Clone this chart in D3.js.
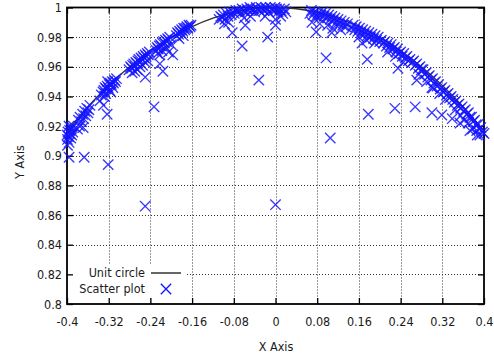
<!DOCTYPE html>
<html>
<head>
<meta charset="utf-8">
<script src="https://cdn.jsdelivr.net/npm/d3@7"></script>
<style>
  body { margin: 0; background: #fff; }
  svg { display: block; }
  text { font-family: "DejaVu Sans Condensed", "DejaVu Sans", sans-serif; fill: #1a1a1a; }
</style>
</head>
<body>
<script>
// tick values on both axes
var xTicks = [-0.4, -0.32, -0.24, -0.16, -0.08, 0, 0.08, 0.16, 0.24, 0.32, 0.4];
var yTicks = [0.8, 0.82, 0.84, 0.86, 0.88, 0.9, 0.92, 0.94, 0.96, 0.98, 1];

// "Unit circle" line, read at every 0.04
var circleX = [-0.4, -0.36, -0.32, -0.28, -0.24, -0.2, -0.16, -0.12, -0.08, -0.04, 0,
               0.04, 0.08, 0.12, 0.16, 0.2, 0.24, 0.28, 0.32, 0.36, 0.4];
var circleY = [0.9165, 0.9330, 0.9474, 0.9600, 0.9708, 0.9798, 0.9871, 0.9928, 0.9968, 0.9992, 1.0,
               0.9992, 0.9968, 0.9928, 0.9871, 0.9798, 0.9708, 0.9600, 0.9474, 0.9330, 0.9165];

// "Scatter plot" points hugging the circle, left half
var scatterLeft = [
  [-0.400,0.914],[-0.399,0.911],[-0.398,0.916],[-0.397,0.913],[-0.396,0.909],[-0.395,0.917],
  [-0.394,0.915],[-0.393,0.912],[-0.392,0.918],[-0.391,0.914],[-0.390,0.919],[-0.389,0.916],
  [-0.388,0.920],[-0.399,0.907],[-0.396,0.920],
  [-0.378,0.924],[-0.375,0.926],[-0.372,0.923],[-0.370,0.928],[-0.368,0.925],[-0.366,0.930],
  [-0.364,0.927],[-0.362,0.932],[-0.360,0.929],[-0.358,0.931],[-0.376,0.920],[-0.369,0.919],
  [-0.356,0.934],[-0.380,0.918],
  [-0.334,0.941],[-0.331,0.943],[-0.329,0.944],[-0.327,0.946],[-0.325,0.945],[-0.323,0.947],
  [-0.321,0.946],[-0.319,0.948],[-0.317,0.949],[-0.315,0.948],[-0.313,0.950],[-0.311,0.949],
  [-0.309,0.951],[-0.307,0.950],[-0.305,0.952],[-0.318,0.944],[-0.312,0.946],[-0.326,0.942],
  [-0.322,0.950],[-0.328,0.940],[-0.316,0.943],
  [-0.281,0.958],[-0.278,0.960],[-0.276,0.959],[-0.274,0.961],[-0.272,0.962],[-0.270,0.960],
  [-0.268,0.963],[-0.266,0.962],[-0.264,0.964],[-0.262,0.965],[-0.260,0.963],[-0.258,0.966],
  [-0.256,0.965],[-0.254,0.967],[-0.252,0.966],[-0.250,0.968],[-0.248,0.967],[-0.246,0.969],
  [-0.244,0.968],[-0.242,0.970],[-0.275,0.956],[-0.265,0.958],[-0.255,0.961],[-0.245,0.964],
  [-0.270,0.957],[-0.260,0.960],[-0.250,0.963],
  [-0.229,0.971],[-0.227,0.973],[-0.225,0.972],[-0.223,0.974],[-0.221,0.975],[-0.219,0.974],
  [-0.217,0.976],[-0.215,0.977],[-0.213,0.976],[-0.211,0.978],[-0.209,0.977],[-0.207,0.979],
  [-0.205,0.978],[-0.203,0.980],[-0.226,0.969],[-0.218,0.971],[-0.210,0.973],[-0.200,0.975],
  [-0.190,0.981],[-0.188,0.983],[-0.186,0.982],[-0.184,0.984],[-0.182,0.983],[-0.180,0.985],
  [-0.178,0.984],[-0.176,0.986],[-0.174,0.985],[-0.172,0.986],[-0.170,0.987],[-0.168,0.986],
  [-0.166,0.988],[-0.164,0.987],[-0.162,0.988],[-0.185,0.979],[-0.177,0.981]
];

// top of the arc
var scatterTop = [
  [-0.108,0.992],[-0.105,0.994],[-0.102,0.993],[-0.100,0.995],[-0.097,0.992],[-0.094,0.996],
  [-0.091,0.994],[-0.088,0.997],[-0.085,0.995],[-0.082,0.997],[-0.079,0.996],[-0.076,0.998],
  [-0.073,0.997],[-0.070,0.998],[-0.067,0.996],[-0.064,0.999],[-0.061,0.998],[-0.058,0.997],
  [-0.055,0.999],[-0.052,0.998],[-0.049,1.000],[-0.046,0.998],[-0.043,0.999],[-0.040,0.997],
  [-0.037,1.000],[-0.034,0.999],[-0.031,0.998],[-0.028,1.000],[-0.025,0.999],[-0.022,0.998],
  [-0.019,1.000],[-0.016,0.999],[-0.013,0.997],[-0.010,1.000],[-0.007,0.999],[-0.004,0.998],
  [-0.001,1.000],[0.002,0.999],[0.005,0.997],[0.008,0.999],[0.011,0.998],[0.014,0.996],
  [0.017,0.999],[0.020,0.997],[-0.098,0.989],[-0.090,0.990],[-0.060,0.993],[-0.048,0.994],
  [-0.020,0.994],[0.000,0.992],[0.010,0.994]
];

// right half
var scatterRight = [
  [0.066,0.996],[0.069,0.998],[0.072,0.995],[0.075,0.997],[0.078,0.994],[0.081,0.996],
  [0.084,0.993],[0.087,0.995],[0.090,0.997],[0.093,0.994],[0.096,0.996],[0.099,0.993],
  [0.102,0.995],[0.105,0.992],[0.108,0.994],[0.111,0.991],[0.114,0.993],[0.117,0.990],
  [0.120,0.992],[0.123,0.989],[0.126,0.991],[0.129,0.988],[0.132,0.990],[0.135,0.987],
  [0.138,0.989],[0.070,0.990],[0.085,0.989],[0.100,0.988],[0.110,0.986],[0.125,0.985],
  [0.146,0.986],[0.149,0.988],[0.152,0.985],[0.155,0.987],[0.158,0.984],[0.161,0.986],
  [0.164,0.983],[0.167,0.985],[0.170,0.982],[0.173,0.984],[0.176,0.981],[0.179,0.983],
  [0.182,0.980],[0.185,0.982],[0.188,0.979],[0.191,0.981],[0.194,0.978],[0.197,0.980],
  [0.200,0.977],[0.203,0.978],[0.160,0.980],[0.175,0.978],[0.190,0.976],
  [0.207,0.976],[0.210,0.977],[0.213,0.974],[0.216,0.976],[0.219,0.973],[0.222,0.975],
  [0.225,0.972],[0.228,0.973],[0.231,0.970],[0.234,0.972],[0.237,0.969],[0.240,0.970],
  [0.243,0.967],[0.246,0.969],[0.249,0.966],[0.252,0.967],[0.255,0.964],[0.258,0.965],
  [0.215,0.970],[0.230,0.967],[0.245,0.963],
  [0.262,0.963],[0.265,0.964],[0.268,0.961],[0.271,0.962],[0.274,0.959],[0.277,0.960],
  [0.280,0.958],[0.283,0.958],[0.286,0.955],[0.289,0.956],[0.292,0.953],[0.295,0.954],
  [0.298,0.951],[0.301,0.952],[0.304,0.949],[0.307,0.950],[0.310,0.947],[0.313,0.948],
  [0.316,0.945],[0.319,0.946],[0.322,0.943],[0.325,0.944],[0.328,0.941],[0.331,0.942],
  [0.334,0.939],[0.275,0.955],[0.290,0.950],[0.300,0.946],[0.315,0.942],[0.326,0.938],
  [0.337,0.940],[0.340,0.938],[0.343,0.936],[0.346,0.937],[0.349,0.934],[0.352,0.935],
  [0.355,0.932],[0.358,0.933],[0.361,0.930],[0.364,0.931],[0.367,0.928],[0.370,0.929],
  [0.373,0.926],[0.376,0.926],[0.379,0.923],[0.382,0.924],[0.385,0.921],[0.388,0.921],
  [0.391,0.918],[0.394,0.919],[0.397,0.916],[0.400,0.915],[0.345,0.931],[0.355,0.927],
  [0.362,0.924],[0.370,0.922],[0.378,0.918],[0.386,0.917],[0.392,0.914]
];

// points that fall well inside the circle
var scatterOutliers = [
  [-0.396,0.899],[-0.367,0.899],[-0.321,0.894],[-0.337,0.937],[-0.330,0.934],[-0.323,0.928],
  [-0.250,0.953],[-0.233,0.933],[-0.216,0.957],[-0.222,0.962],[-0.250,0.866],[-0.222,0.968],
  [-0.197,0.968],[-0.205,0.970],[-0.083,0.983],[-0.064,0.974],[-0.058,0.988],[-0.015,0.980],
  [-0.032,0.951],[0.000,0.867],[0.000,0.988],[0.078,0.9835],[0.108,0.983],[0.097,0.966],
  [0.105,0.912],[0.166,0.976],[0.176,0.965],[0.178,0.928],[0.235,0.959],[0.271,0.951],
  [0.302,0.9457],[0.229,0.932],[0.268,0.933],[0.300,0.929],[0.319,0.9275],[0.339,0.925],
  [0.354,0.922],[0.373,0.917],[0.387,0.914]
];

var W = 494, H = 358;
var padL = 67, padR = 484, padT = 7.5, padB = 304;
var blue = "#1414ff";

var svg = d3.select("body").append("svg")
    .attr("width", W)
    .attr("height", H);

var x = d3.scaleLinear().domain([-0.4, 0.4]).range([padL, padR]);
var y = d3.scaleLinear().domain([0.8, 1]).range([padB, padT]);
var fmt = function(d) { return String(+d.toFixed(2)); };

// grid
var grid = svg.append("g")
    .attr("stroke", "#333")
    .attr("stroke-width", 1)
    .attr("stroke-dasharray", "1,2");
grid.selectAll("line.gx")
    .data(xTicks.slice(1, -1))
  .enter().append("line")
    .attr("x1", function(d) { return Math.round(x(d)) + 0.5; })
    .attr("x2", function(d) { return Math.round(x(d)) + 0.5; })
    .attr("y1", padT)
    .attr("y2", padB);
grid.selectAll("line.gy")
    .data(yTicks.slice(1, -1))
  .enter().append("line")
    .attr("y1", function(d) { return Math.round(y(d)) + 0.5; })
    .attr("y2", function(d) { return Math.round(y(d)) + 0.5; })
    .attr("x1", padL)
    .attr("x2", padR);

// key box hides the grid under it
svg.append("rect")
    .attr("x", padL + 1)
    .attr("y", 264)
    .attr("width", 118)
    .attr("height", 34)
    .attr("fill", "#fff");

// axes with inward ticks
svg.append("g")
    .attr("transform", "translate(0," + padB + ")")
    .call(d3.axisBottom(x).tickValues(xTicks).tickFormat(fmt)
      .tickSizeInner(-6).tickSizeOuter(0).tickPadding(13));
svg.append("g")
    .attr("transform", "translate(" + padL + ",0)")
    .call(d3.axisLeft(y).tickValues(yTicks).tickFormat(fmt)
      .tickSizeInner(-6).tickSizeOuter(0).tickPadding(5));
svg.append("g")
    .attr("transform", "translate(0," + padT + ")")
    .call(d3.axisTop(x).tickValues(xTicks).tickFormat("")
      .tickSizeInner(-6).tickSizeOuter(0));
svg.append("g")
    .attr("transform", "translate(" + padR + ",0)")
    .call(d3.axisRight(y).tickValues(yTicks).tickFormat("")
      .tickSizeInner(-6).tickSizeOuter(0));

svg.selectAll(".domain").remove();
svg.selectAll(".tick line").attr("stroke", "#000").attr("stroke-width", 1.3);
svg.selectAll(".tick text")
    .attr("fill", "#1a1a1a")
    .style("font-family", "'DejaVu Sans Condensed', 'DejaVu Sans', sans-serif")
    .style("font-size", "12.5px");

// frame
svg.append("rect")
    .attr("x", padL)
    .attr("y", padT)
    .attr("width", padR - padL)
    .attr("height", padB - padT)
    .attr("fill", "none")
    .attr("stroke", "#000")
    .attr("stroke-width", 1.8);

// unit circle
var line = d3.line()
    .x(function(d, i) { return x(circleX[i]); })
    .y(function(d) { return y(d); })
    .curve(d3.curveNatural);
svg.append("path")
    .datum(circleY)
    .attr("d", line)
    .attr("fill", "none")
    .attr("stroke", "#333")
    .attr("stroke-width", 1.4);

// scatter marks
function cross(sel, s) {
  return sel.attr("d", "M" + (-s) + "," + (-s) + "L" + s + "," + s +
                       "M" + (-s) + "," + s + "L" + s + "," + (-s));
}
var pts = scatterLeft.concat(scatterTop, scatterRight, scatterOutliers);
cross(svg.append("g").selectAll("path")
    .data(pts)
  .enter().append("path")
    .attr("transform", function(d) { return "translate(" + x(d[0]) + "," + y(d[1]) + ")"; })
    .attr("fill", "none")
    .attr("stroke", blue)
    .attr("stroke-opacity", 0.85)
    .attr("stroke-width", 1.35), 5.2);

// key
var key = svg.append("g").style("font-size", "12.5px");
key.append("text")
    .attr("x", 145).attr("y", 273).attr("dy", "0.35em")
    .attr("text-anchor", "end")
    .text("Unit circle");
key.append("line")
    .attr("x1", 151).attr("x2", 181)
    .attr("y1", 273).attr("y2", 273)
    .attr("stroke", "#555")
    .attr("stroke-width", 1.8);
key.append("text")
    .attr("x", 145).attr("y", 289).attr("dy", "0.35em")
    .attr("text-anchor", "end")
    .text("Scatter plot");
cross(key.append("path")
    .attr("transform", "translate(166,289)")
    .attr("fill", "none")
    .attr("stroke", blue)
    .attr("stroke-width", 1.35), 5.2);

// axis titles
svg.append("text")
    .attr("x", 276).attr("y", 347).attr("dy", "0.35em")
    .attr("text-anchor", "middle")
    .style("font-size", "12.5px")
    .text("X Axis");
svg.append("text")
    .attr("transform", "translate(20,162) rotate(-90)")
    .attr("dy", "0.35em")
    .attr("text-anchor", "middle")
    .style("font-size", "12.5px")
    .text("Y Axis");
</script>
</body>
</html>
